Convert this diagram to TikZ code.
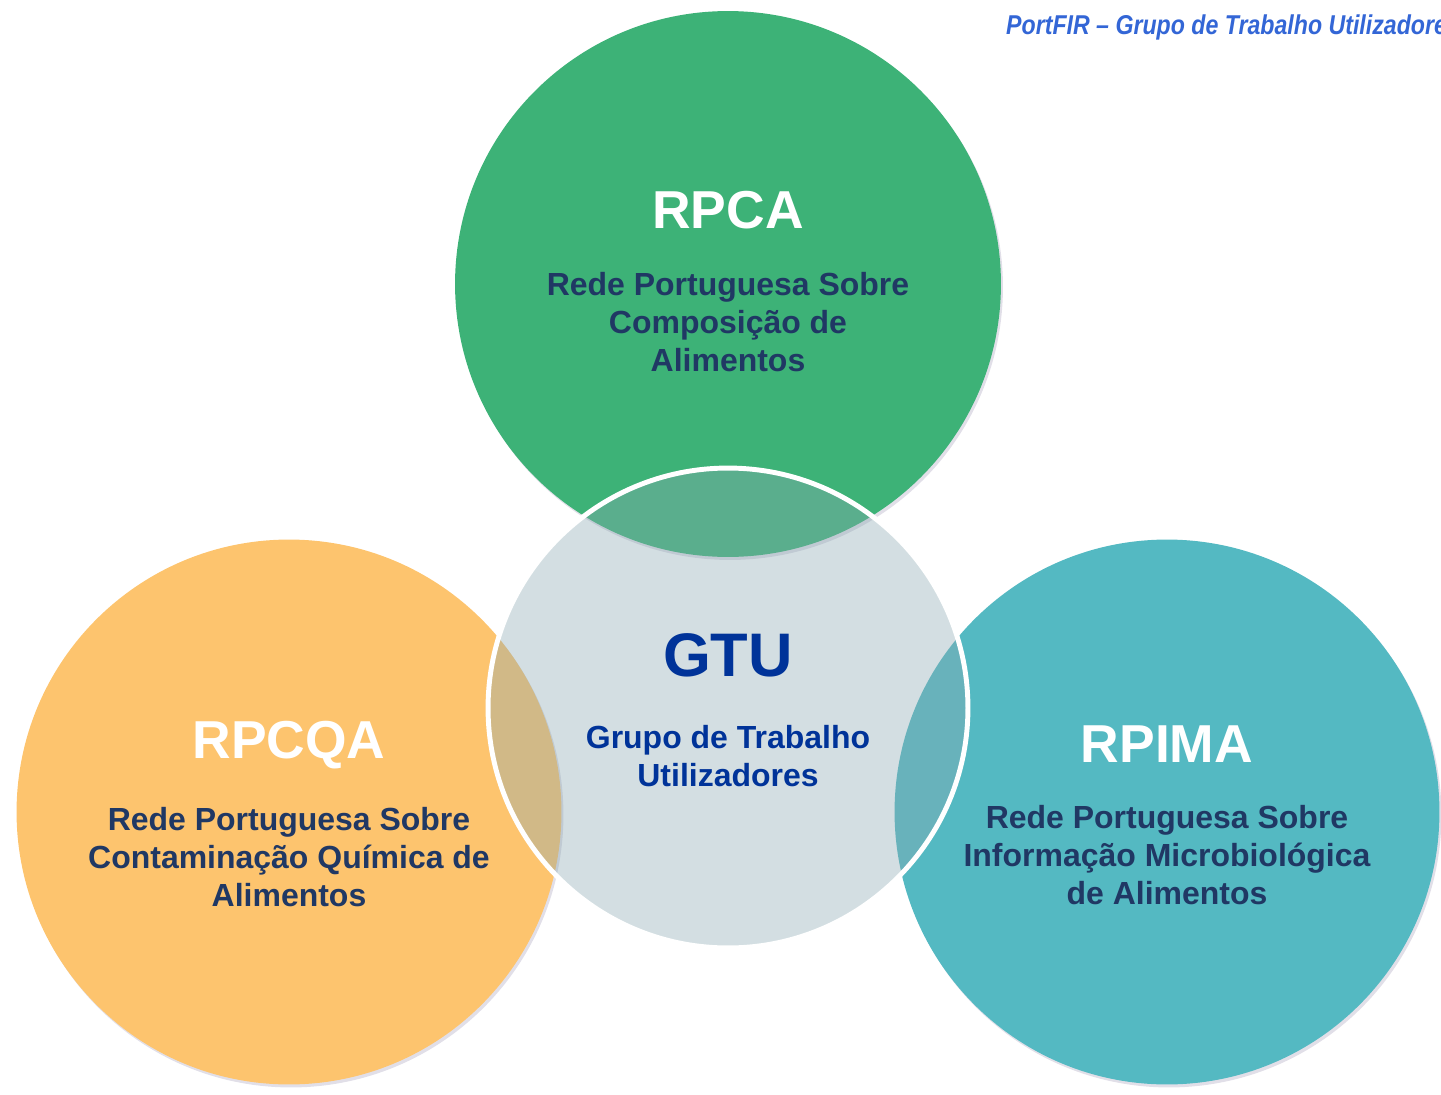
\documentclass[tikz,border=0pt]{standalone}
\usepackage{fontspec}
\setmainfont{Liberation Sans}
\newfontfamily\narrowsans{Liberation Sans}[FakeStretch=0.85]
\usetikzlibrary{shadows}

\definecolor{rpcagreen}{RGB}{61,178,119}
\definecolor{rpcqaorange}{RGB}{253,196,110}
\definecolor{rpimateal}{RGB}{84,185,194}
\definecolor{gtufill}{RGB}{139,169,178}
\definecolor{gtublue}{HTML}{003399}
\definecolor{subnavy}{HTML}{203864}
\definecolor{titleblue}{RGB}{51,102,214}
\definecolor{shadowgrey}{RGB}{90,80,130}

\begin{document}
\begin{tikzpicture}[x=0.02cm, y=-0.02cm,
    ring/.style={drop shadow={opacity=0.18, fill=shadowgrey, shadow xshift=0.4mm, shadow yshift=-0.6mm}},
    head/.style={font=\fontsize{30.4}{36}\selectfont\bfseries, text=white},
    sub/.style={font=\fontsize{18.2}{21.5}\selectfont\bfseries, text=subnavy, align=center}]
    \useasboundingbox (0,0) rectangle (1441,1095);
    \clip (0,0) rectangle (1441,1095);

    % the three networks
    \path[fill=rpcagreen, ring] (728,284) circle[radius=5.46cm];
    \path[fill=rpcqaorange, ring] (289,812) circle[radius=5.45cm];
    \path[fill=rpimateal, ring] (1167,812) circle[radius=5.45cm];

    % working group in the middle
    \filldraw[fill=gtufill, fill opacity=0.38, draw=white, line width=2.8pt] (728,708) circle[radius=4.8cm];

    % labels
    \node[head] (rpca) at (728,210) {RPCA};
    \node[sub] (rpcatxt) at (728,322) {Rede Portuguesa Sobre\\Composição de\\Alimentos};
    \node[head] (rpcqa) at (289,745) {RPCQA};
    \node[sub] (rpcqatxt) at (289,857) {Rede Portuguesa Sobre\\Contaminação Química de\\Alimentos};
    \node[head] (rpima) at (1167,744) {RPIMA};
    \node[sub] (rpimatxt) at (1167,855) {Rede Portuguesa Sobre\\Informação Microbiológica\\de Alimentos};
    \node[head, font=\fontsize{35}{40}\selectfont\bfseries, text=gtublue] (gtu) at (728,655) {GTU};
    \node[sub, text=gtublue] (gtutxt) at (728,756) {Grupo de Trabalho\\Utilizadores};

    \node[anchor=base west, font=\fontsize{15.5}{18}\selectfont\bfseries, text=titleblue] (title) at (1000,35)
        {\narrowsans\bfseries\itshape PortFIR – Grupo de Trabalho Utilizadores};
\end{tikzpicture}
\end{document}
